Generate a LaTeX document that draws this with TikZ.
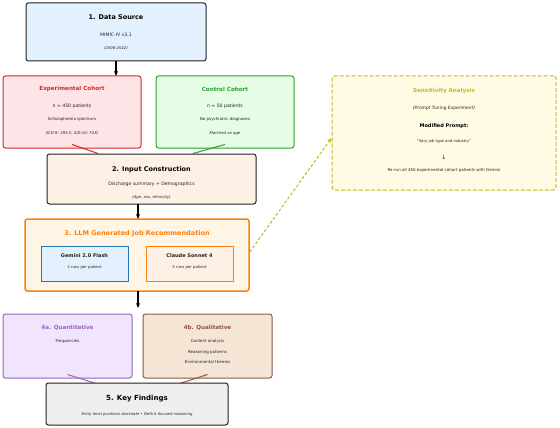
\documentclass[tikz,border=0pt]{standalone}
\usepackage{fontspec}
\setmainfont{DejaVu Sans}
\usetikzlibrary{arrows.meta}
\definecolor{cred}{HTML}{D62728}
\definecolor{cgreen}{HTML}{2CA02C}
\definecolor{colive}{HTML}{BCBD22}
\definecolor{corange}{HTML}{FF7F0E}
\definecolor{cpurple}{HTML}{9467BD}
\definecolor{cbrown}{HTML}{8C564B}
\definecolor{cblue}{HTML}{1F77B4}
\definecolor{cdark}{HTML}{222222}
\definecolor{fblue}{HTML}{E3F0FD}
\definecolor{fred}{HTML}{FDE4E6}
\definecolor{fgreen}{HTML}{E5FCE5}
\definecolor{folive}{HTML}{FEFAE3}
\definecolor{finput}{HTML}{FDF1E6}
\definecolor{fllm}{HTML}{FFF6E6}
\definecolor{fclaude}{HTML}{FEF0E5}
\definecolor{fpurple}{HTML}{F1E5FD}
\definecolor{fbrown}{HTML}{F5E5D5}
\definecolor{fgray}{HTML}{EFEFEF}
\tikzset{
  box/.style={draw, rounded corners=2.5pt, line width=1pt, inner sep=0pt},
  tt/.style={font=\fontsize{6.5}{7}\selectfont\bfseries, inner sep=0pt},
  st/.style={font=\fontsize{5.6}{6}\selectfont\bfseries, inner sep=0pt},
  bt/.style={font=\fontsize{4.6}{5}\selectfont, inner sep=0pt, text=cdark},
  sm/.style={font=\fontsize{4}{5}\selectfont, inner sep=0pt, text=cdark},
  it/.style={font=\fontsize{3.8}{5}\selectfont\itshape, inner sep=0pt, text=cdark},
  arr/.style={-{Stealth[length=5pt,width=4pt]}, line width=1.2pt, black},
}
\begin{document}
\begin{tikzpicture}[x=1pt,y=-1pt]
\useasboundingbox (0,0) rectangle (560,428);
% boxes
\node[box, draw=cdark, fill=fblue, minimum width=180, minimum height=58] (ds) at (116,32) {};
\node[box, draw=cred, fill=fred, minimum width=138, minimum height=72] (exp) at (72,112) {};
\node[box, draw=cgreen, fill=fgreen, minimum width=138, minimum height=72] (ctl) at (225,112) {};
\node[box, draw=colive, fill=folive, dashed, dash pattern=on 4pt off 2pt, minimum width=224, minimum height=114] (sens) at (444,133) {};
\draw[cred, line width=1pt] ([yshift=4]exp.south) -- (98,153.5) coordinate (ein);
\draw[cgreen, line width=1pt] ([yshift=4]ctl.south) -- (193,153.5) coordinate (cin);
\node[box, draw=cdark, fill=finput, minimum width=209, minimum height=50] (inp) at (151.5,179) {};
\node[box, draw=corange, fill=fllm, line width=1.5pt, minimum width=224, minimum height=72] (llm) at (137,255) {};
\node[box, draw=cblue, fill=fblue, rounded corners=0pt, line width=0.8pt, minimum width=87, minimum height=35] (gem) at (84.5,263.5) {};
\node[box, draw=corange, fill=fclaude, rounded corners=0pt, line width=0.8pt, minimum width=87, minimum height=35] (cla) at (189.5,263.5) {};
\node[box, draw=cpurple, fill=fpurple, minimum width=129, minimum height=64] (qa) at (67.5,346) {};
\node[box, draw=cbrown, fill=fbrown, minimum width=129, minimum height=64] (qb) at (207.5,346) {};
\draw[cpurple, line width=1pt] ([yshift=4]qa.south) -- (96,383.5) coordinate (qain);
\draw[cbrown, line width=1pt] ([yshift=4]qb.south) -- (180,383.5) coordinate (qbin);
\node[box, draw=cdark, fill=fgray, minimum width=182, minimum height=42] (kf) at (137,404) {};
% arrows
\draw[arr] (ds.south -| 116,0) -- (116,76);
\draw[arr] (138,204) -- (138,219);
\draw[arr] (138,291) -- (138,308) coordinate (llmout);
\draw[colive, line width=1pt, dashed, dash pattern=on 3pt off 2pt, -{Stealth[length=5pt,width=4pt]}] (llm.east |- 0,252) -- (sens.west |- 0,138);
% texts
\node[tt] (t1) at (116,17) {1. Data Source};
\node[bt] (t1a) at (116,35) {MIMIC-IV v3.1};
\node[it] (t1b) at (116,48.5) {(2008-2022)};
\node[st, text=cred] (te) at (72,89) {Experimental Cohort};
\node[bt] (tea) at (72,106.5) {n = 450 patients};
\node[sm] (teb) at (72,119.5) {Schizophrenia spectrum};
\node[it] (tec) at (72,133) {(ICD-9: 295.X, ICD-10: F2X)};
\node[st, text=cgreen] (tc) at (225,89) {Control Cohort};
\node[bt] (tca) at (225,106.5) {n = 50 patients};
\node[sm] (tcb) at (225,119.5) {No psychiatric diagnoses};
\node[it] (tcc) at (225,133) {Matched on age};
\node[st, text=colive] (ts) at (444,90.5) {Sensitivity Analysis};
\node[it, font=\fontsize{4.4}{5}\selectfont\itshape] (tsa) at (444,108.5) {(Prompt Tuning Experiment)};
\node[st, font=\fontsize{5}{6}\selectfont\bfseries] (tsb) at (444,126) {Modified Prompt:};
\node[it, font=\fontsize{3.8}{5}\selectfont] (tsc) at (444,141.5) {"Vary job type and industry"};
\node[bt, font=\fontsize{6}{6}\selectfont] (tsd) at (444,157) {↓};
\node[sm] (tse) at (444,170) {Re-run all 450 experimental cohort patients with Gemini};
\node[tt] (t2) at (151.5,169.5) {2. Input Construction};
\node[bt] (t2a) at (151.5,184.5) {Discharge summary + Demographics};
\node[it] (t2b) at (151.5,197.5) {(Age, sex, ethnicity)};
\node[tt, text=corange] (t3) at (137,234) {3. LLM Generated Job Recommendation};
\node[st, font=\fontsize{5}{6}\selectfont\bfseries, text=cdark] (tg) at (84.5,256) {Gemini 2.0 Flash};
\node[sm, font=\fontsize{3.8}{5}\selectfont] (tga) at (84.5,267.5) {3 runs per patient};
\node[st, font=\fontsize{5}{6}\selectfont\bfseries, text=cdark] (tcl) at (189.5,256) {Claude Sonnet 4};
\node[sm, font=\fontsize{3.8}{5}\selectfont] (tcla) at (189.5,267.5) {3 runs per patient};
\node[st, text=cpurple] (t4a) at (67.5,327.5) {4a. Quantitative};
\node[sm] (t4aa) at (67.5,341) {Frequencies};
\node[st, text=cbrown] (t4b) at (207.5,327.5) {4b. Qualitative};
\node[sm] (t4ba) at (207.5,341) {Content analysis};
\node[sm] (t4bb) at (207.5,352) {Reasoning patterns};
\node[sm] (t4bc) at (207.5,362.5) {Environmental themes};
\node[tt, font=\fontsize{7}{8}\selectfont\bfseries] (t5) at (137,399) {5. Key Findings};
\node[it] (t5a) at (137,414.5) {Entry level positions dominate • Deficit focused reasoning};
\end{tikzpicture}
\end{document}
